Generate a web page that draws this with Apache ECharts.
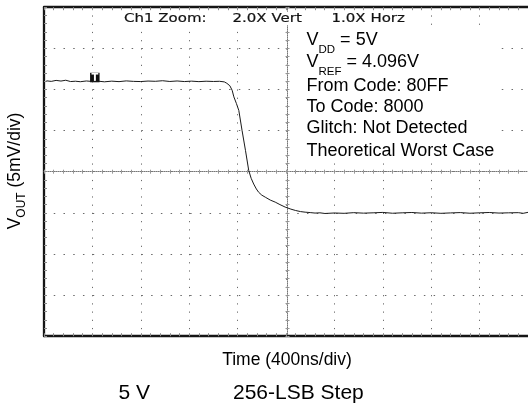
<!DOCTYPE html>
<html><head><meta charset="utf-8">
<script src="https://cdn.jsdelivr.net/npm/echarts@6/dist/echarts.min.js"></script>
<style>html,body{margin:0;padding:0;background:#fff}#c{width:528px;height:406px}</style>
</head><body><div id="c"></div>
<script>
// ---- data (time in ns, Vout in mV relative to screen centre) ----
const timeNs = [20,60,100,140,180,220,260,300,350,400,450,500,560,620,680,740,800,860,920,980,1040,1100,1160,1220,1280,1340,1400,1450,1490,1511,1536,1555,1569,1590,1610,1637,1665,1692,1712,1733,1755,1774,1800,1829,1870,1911,1950,1993,2040,2080,2120,2158,2200,2240,2280,2322,2400,2480,2560,2640,2720,2800,2880,2960,3040,3120,3200,3280,3360,3440,3520,3600,3680,3760,3840,3920,3960,4000];
const voutMv = [11.05,10.98,11.10,11.02,11.12,10.96,11.00,10.94,11.03,10.97,11.00,10.93,11.01,10.95,11.04,10.98,10.96,11.02,10.99,11.06,10.97,11.03,10.96,11.01,10.95,11.00,10.97,10.99,10.92,10.75,10.45,9.9,9.1,8.3,7.45,5.0,2.6,0.15,-0.8,-1.5,-2.1,-2.5,-2.85,-3.1,-3.45,-3.7,-4.0,-4.3,-4.55,-4.72,-4.85,-4.92,-4.97,-5.03,-5.0,-5.08,-5.02,-5.06,-4.98,-5.04,-5.0,-4.95,-5.05,-5.0,-4.96,-5.04,-4.99,-5.06,-5.01,-4.97,-5.05,-5.0,-4.96,-5.03,-5.0,-4.98,-5.06,-4.94];
const xRange = [0, 4000], xDivNs = 400;
const yRange = [-20, 20], yDivMv = 5;
const triggerPoint = [420, 11.45];
const headerTexts = ['Ch1 Zoom:', '2.0X Vert', '1.0X Horz'];
const noteLines = ['{m|V}{s|DD}{m| = 5V}', '{m|V}{s|REF}{m| = 4.096V}', '{m|From Code: 80FF}', '{m|To Code: 8000}', '{m|Glitch: Not Detected}', '{m|Theoretical Worst Case}'];
const yTitle = '{m|V}{s|OUT}{m| (5mV/div)}';
const xTitle = 'Time (400ns/div)';
const captions = ['5 V', '256-LSB Step'];

// ---- layout ----
const G = {left: 44, top: 7.2, width: 487, height: 329};
const SANS = '"Liberation Sans", Arial, sans-serif';
const tickGrey = '#8a8a8a';

function mkX(extra) {
  return Object.assign({
    type: 'value', min: xRange[0], max: xRange[1], interval: xDivNs,
    axisLabel: {show: false}, splitLine: {show: false},
    axisTick: {show: true, inside: true, length: 3, lineStyle: {color: tickGrey}},
    minorTick: {show: true, splitNumber: 5, length: 3, lineStyle: {color: tickGrey}},
    axisLine: {show: true, onZero: false, lineStyle: {color: '#151515', width: 2.3}}
  }, extra);
}
function mkY(extra) {
  return Object.assign({
    type: 'value', min: yRange[0], max: yRange[1], interval: yDivMv,
    axisLabel: {show: false}, splitLine: {show: false},
    axisTick: {show: true, inside: true, length: 3, lineStyle: {color: tickGrey}},
    minorTick: {show: true, splitNumber: 5, length: 3, lineStyle: {color: tickGrey}},
    axisLine: {show: true, onZero: false, lineStyle: {color: '#151515', width: 2.3}}
  }, extra);
}
const centreLine = {color: '#777', width: 1, type: [1, 1]};
const centreTick = (inside, showLine) => ({
  axisTick: {show: true, inside: inside, length: 2, lineStyle: {color: '#999'}},
  minorTick: {show: true, splitNumber: 5, length: 2, lineStyle: {color: '#999'}},
  axisLine: {show: true, onZero: true, onZeroAxisIndex: 0, lineStyle: showLine ? centreLine : {color: 'rgba(0,0,0,0)'}}
});

const xAxes = [
  mkX({position: 'bottom', splitLine: {show: true, lineStyle: {color: '#6a6a6a', width: 1, type: [1.2, 7.025]}}}),
  mkX({position: 'top'}),
  mkX(Object.assign({position: 'bottom'}, centreTick(true, true))),
  mkX(Object.assign({position: 'bottom'}, centreTick(false, false)))
];
const yAxes = [
  mkY({position: 'left', splitLine: {show: true, lineStyle: {color: '#6a6a6a', width: 1, type: [1.5, 8.24]}}}),
  mkY({position: 'left', offset: -G.width / 2, axisTick: {show: true, inside: true, length: 2, lineStyle: {color: '#999'}},
       minorTick: {show: true, splitNumber: 5, length: 2, lineStyle: {color: '#999'}},
       axisLine: {show: true, onZero: false, lineStyle: centreLine}}),
  mkY({position: 'left', offset: -G.width / 2, axisTick: {show: true, inside: false, length: 2, lineStyle: {color: '#999'}},
       minorTick: {show: true, splitNumber: 5, length: 2, lineStyle: {color: '#999'}},
       axisLine: {show: false, onZero: false}})
];

const headerX = [123, 231.5, 330.5];
const graphics = [];
headerTexts.forEach((t, i) => graphics.push({
  type: 'text', x: headerX[i], y: 18.5, scaleY: 0.8, z: 100,
  style: {text: t, fill: '#111', stroke: '#111', lineWidth: 0.25, font: '15px "DejaVu Sans", Verdana, sans-serif',
          textVerticalAlign: 'middle', backgroundColor: '#fff', padding: [1, 1]}
}));
graphics.push({type: 'rect', z: 90, shape: {x: 296, y: 27, width: 201, height: 132}, style: {fill: '#fff'}});
const noteY = [40, 61.7, 86, 106.9, 128.5, 150.6];
const richNote = {
  m: {fontSize: 18, fontFamily: SANS, lineHeight: 20, fill: '#000'},
  s: {fontSize: 11.5, fontFamily: SANS, lineHeight: 12, verticalAlign: 'top', padding: [14, 0, 0, 0], fill: '#000'}
};
noteLines.forEach((t, i) => graphics.push({
  type: 'text', x: 306.5, y: noteY[i], z: 100,
  style: {text: t, rich: richNote, textVerticalAlign: 'middle', textAlign: 'left'}
}));
graphics.push({
  type: 'text', x: 15.5, y: 171, rotation: Math.PI / 2, z: 100,
  style: {text: yTitle, textAlign: 'center', textVerticalAlign: 'middle', rich: {
    m: {fontSize: 17.5, fontFamily: SANS, lineHeight: 20, fill: '#000'},
    s: {fontSize: 12, fontFamily: SANS, lineHeight: 12, verticalAlign: 'top', padding: [10, 0, 0, 0], fill: '#000'}
  }}
});
graphics.push({
  type: 'text', x: 287, y: 360.5, z: 100,
  style: {text: xTitle, font: '17.5px ' + SANS, fill: '#000', textAlign: 'center', textVerticalAlign: 'middle'}
});
const capX = [118.5, 233];
captions.forEach((t, i) => graphics.push({
  type: 'text', x: capX[i], y: 393, z: 100,
  style: {text: t, font: '21px ' + SANS, fill: '#000', textAlign: 'left', textVerticalAlign: 'middle'}
}));

const chart = echarts.init(document.getElementById('c'), null, {renderer: 'canvas'});
chart.setOption({
  animation: false,
  backgroundColor: '#fff',
  grid: G,
  xAxis: xAxes,
  yAxis: yAxes,
  series: [{
    type: 'line', xAxisIndex: 0, yAxisIndex: 0, z: 5,
    data: timeNs.map((t, i) => [t, voutMv[i]]),
    showSymbol: false, symbol: 'none',
    lineStyle: {color: '#1a1a1a', width: 1},
    markPoint: {
      symbol: 'rect', symbolSize: [9.5, 9.5], silent: true,
      itemStyle: {color: '#111'},
      label: {show: true, position: 'inside', formatter: 'T', color: '#fff', fontSize: 10, fontWeight: 'bold', fontFamily: '"DejaVu Sans", sans-serif', offset: [0, 0.5]},
      data: [{coord: triggerPoint}]
    }
  }],
  graphic: graphics
});
</script></body></html>
